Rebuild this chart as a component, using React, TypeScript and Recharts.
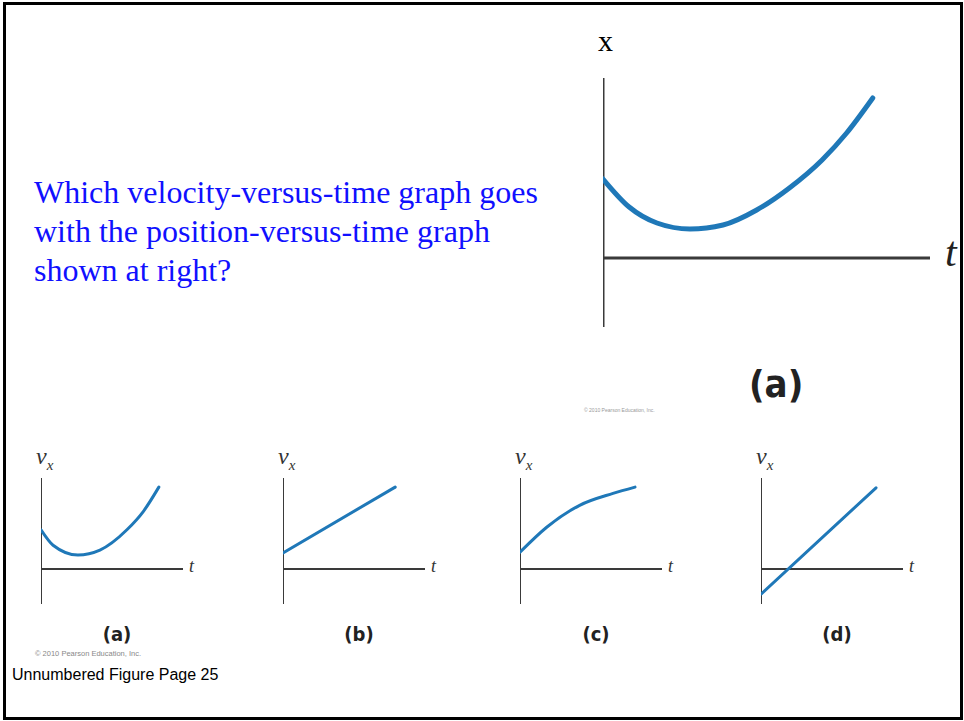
import { LineChart, Line, XAxis, YAxis, ReferenceLine } from 'recharts';

// position-versus-time curve (top right)
const mainT = [0, 0.8, 1.65, 2.66, 3.67, 4.7, 5.7, 6.7, 7.45, 8.25];
const mainX = [7.9, 5.1, 3.5, 2.9, 3.3, 4.8, 7.0, 9.8, 12.5, 16.0];

// the four velocity-versus-time candidates
const aT = [0, 0.85, 2.6, 4.15, 6.05, 7.2, 8.3];
const aV = [2.8, 1.7, 1.0, 1.35, 2.8, 4.1, 5.85];
const bT = [0, 7.9];
const bV = [1.15, 5.85];
const cT = [0, 1.9, 4.2, 6.55, 8.1];
const cV = [1.2, 3.0, 4.55, 5.4, 5.85];
const dT = [0, 8.1];
const dV = [-1.8, 5.8];

const panelLabels = ['(a)', '(b)', '(c)', '(d)'];

const question = [
  'Which velocity-versus-time graph goes',
  'with the position-versus-time graph',
  'shown at right?',
];

const BLUE = '#1f78b8';
const AXIS = '#3a3a3a';

const zip = (ts: number[], vs: number[]) => ts.map((t, i) => ({ t, v: vs[i] }));

interface SketchProps {
  left: number;
  top: number;
  width: number;
  height: number;
  xDomain: [number, number];
  yDomain: [number, number];
  data: { t: number; v: number }[];
  lineWidth: number;
  axisWidth: number;
}

function Sketch({ left, top, width, height, xDomain, yDomain, data, lineWidth, axisWidth }: SketchProps) {
  return (
    <div style={{ position: 'absolute', left, top }}>
      <LineChart width={width} height={height} data={data} margin={{ top: 0, right: 0, bottom: 0, left: 0 }}>
        <XAxis dataKey="t" type="number" domain={xDomain} hide />
        <YAxis type="number" domain={yDomain} hide />
        <ReferenceLine y={0} stroke={AXIS} strokeWidth={axisWidth} />
        <ReferenceLine x={0} stroke={AXIS} strokeWidth={axisWidth} />
        <Line
          dataKey="v"
          type="monotone"
          stroke={BLUE}
          strokeWidth={lineWidth}
          dot={false}
          strokeLinecap="round"
          isAnimationActive={false}
        />
      </LineChart>
    </div>
  );
}

const panels = [
  { x: 41, data: zip(aT, aV) },
  { x: 283, data: zip(bT, bV) },
  { x: 520, data: zip(cT, cV) },
  { x: 761, data: zip(dT, dV) },
];

export default function App() {
  return (
    <div
      style={{
        position: 'absolute',
        left: 0,
        top: 0,
        width: 964,
        height: 721,
        background: '#fff',
        overflow: 'hidden',
      }}
    >
      {/* position-versus-time graph */}
      <Sketch
        left={603}
        top={78}
        width={327}
        height={249}
        xDomain={[0, 10]}
        yDomain={[-6.9, 18]}
        data={zip(mainT, mainX)}
        lineWidth={5}
        axisWidth={3}
      />
      <div
        style={{
          position: 'absolute',
          left: 598,
          top: 24,
          fontFamily: '"Liberation Serif", serif',
          fontSize: 30,
          color: '#000',
        }}
      >
        x
      </div>
      <div
        style={{
          position: 'absolute',
          left: 945,
          top: 228,
          fontFamily: '"Liberation Serif", serif',
          fontStyle: 'italic',
          fontSize: 42,
          color: '#222',
        }}
      >
        t
      </div>
      <div
        style={{
          position: 'absolute',
          left: 749,
          top: 362,
          fontFamily: '"DejaVu Sans Condensed", "DejaVu Sans", sans-serif',
          fontWeight: 'bold',
          fontSize: 38,
          color: '#222',
        }}
      >
        (a)
      </div>
      <div
        style={{
          position: 'absolute',
          left: 584,
          top: 407,
          fontFamily: '"Liberation Sans", sans-serif',
          fontSize: 5,
          color: '#999',
        }}
      >
        © 2010 Pearson Education, Inc.
      </div>

      <div
        style={{
          position: 'absolute',
          left: 3,
          top: 2,
          width: 960,
          height: 718,
          border: '3px solid #000',
          boxSizing: 'border-box',
        }}
      />

      {/* question text */}
      <div
        style={{
          position: 'absolute',
          left: 34,
          top: 173,
          color: '#1010ff',
          fontFamily: '"Liberation Serif", serif',
          fontSize: 32,
          lineHeight: '39px',
        }}
      >
        {question.map((q) => (
          <div key={q}>{q}</div>
        ))}
      </div>

      {/* velocity-versus-time candidates */}
      {panels.map((p, i) => (
        <div key={panelLabels[i]}>
          <Sketch
            left={p.x}
            top={478}
            width={142}
            height={126}
            xDomain={[0, 10]}
            yDomain={[-2.5, 6.5]}
            data={p.data}
            lineWidth={3}
            axisWidth={2}
          />
          <div
            style={{
              position: 'absolute',
              left: p.x - 5,
              top: 443,
              fontFamily: '"Liberation Serif", serif',
              fontStyle: 'italic',
              fontSize: 24,
              color: '#333',
            }}
          >
            v<sub style={{ fontSize: 15 }}>x</sub>
          </div>
          <div
            style={{
              position: 'absolute',
              left: p.x + 148,
              top: 556,
              fontFamily: '"Liberation Serif", serif',
              fontStyle: 'italic',
              fontSize: 18,
              color: '#333',
            }}
          >
            t
          </div>
          <div
            style={{
              position: 'absolute',
              left: p.x + 52,
              top: 622,
              width: 48,
              textAlign: 'center',
              fontFamily: '"DejaVu Sans Condensed", "DejaVu Sans", sans-serif',
              fontWeight: 'bold',
              fontSize: 20,
              color: '#222',
            }}
          >
            {panelLabels[i]}
          </div>
        </div>
      ))}

      <div
        style={{
          position: 'absolute',
          left: 35,
          top: 649,
          fontFamily: '"Liberation Sans", sans-serif',
          fontSize: 7.5,
          color: '#888',
        }}
      >
        © 2010 Pearson Education, Inc.
      </div>
      <div
        style={{
          position: 'absolute',
          left: 12,
          top: 666,
          fontFamily: '"Liberation Sans", sans-serif',
          fontSize: 16,
          color: '#000',
        }}
      >
        Unnumbered Figure Page 25
      </div>
    </div>
  );
}
